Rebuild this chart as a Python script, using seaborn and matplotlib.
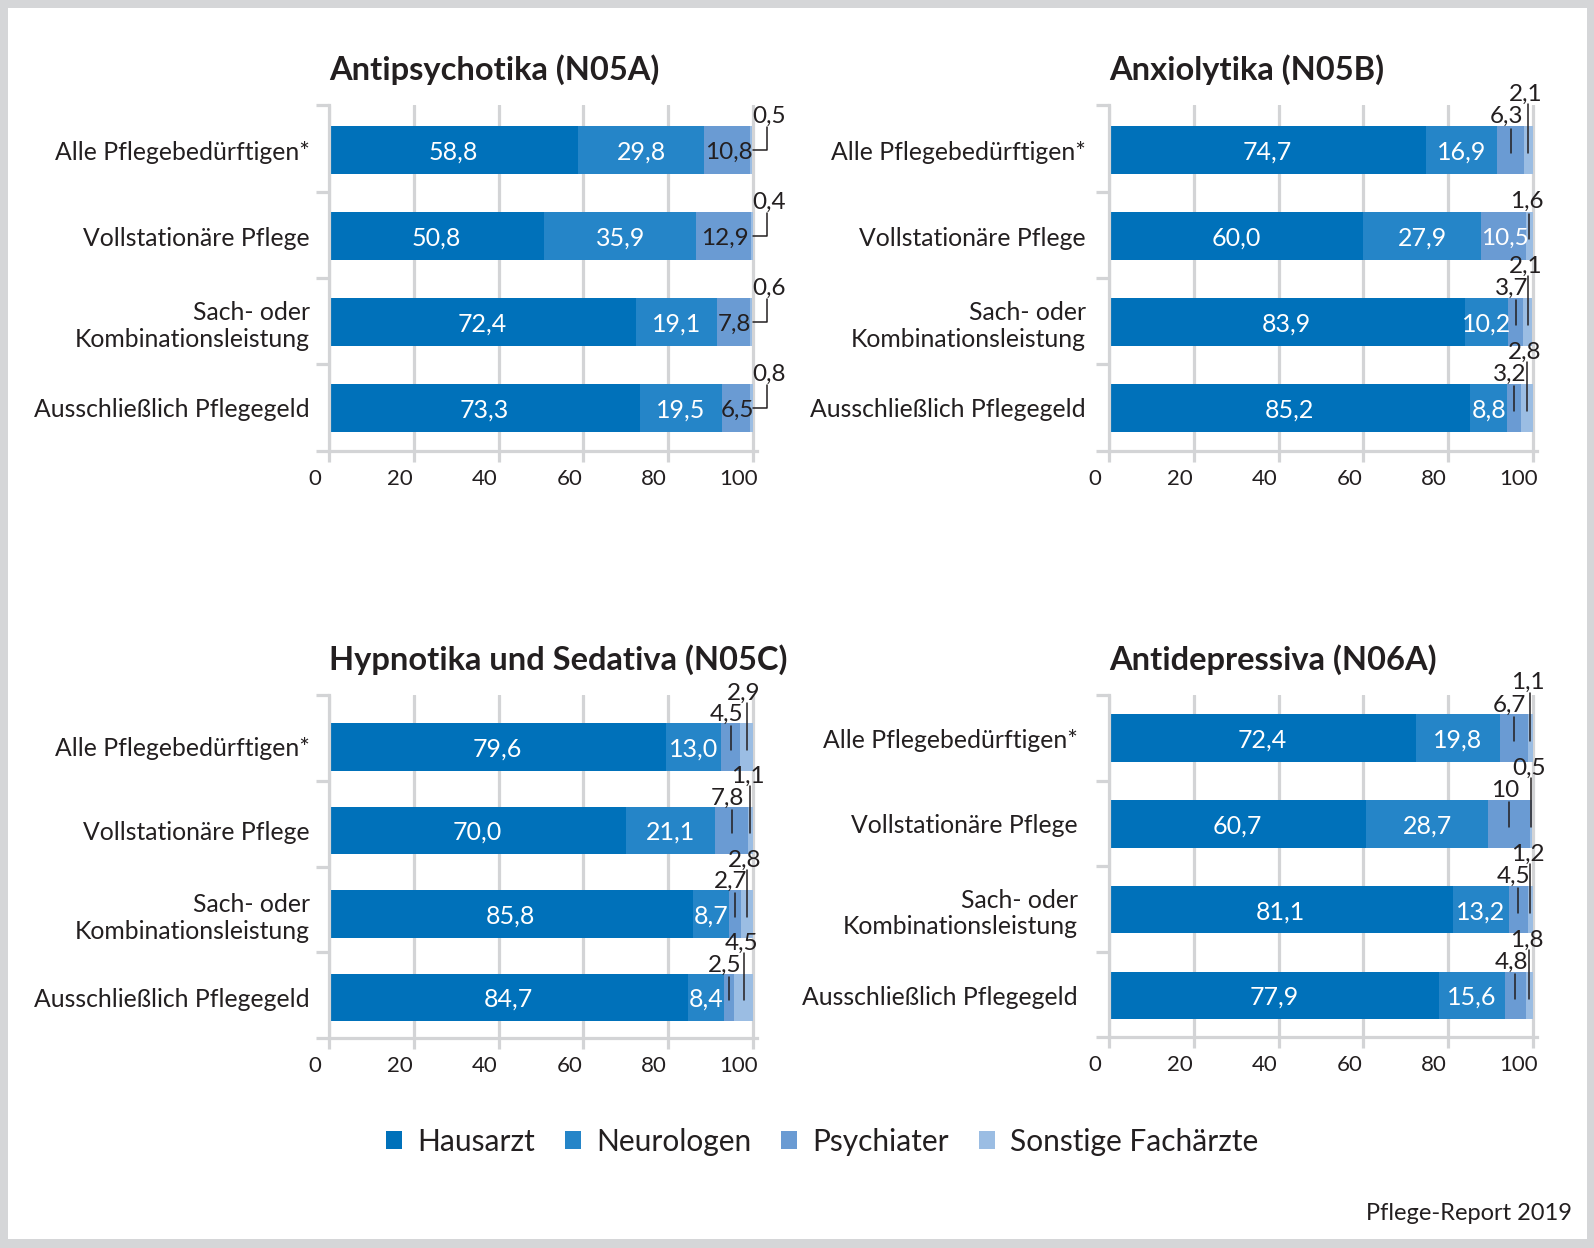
import numpy as np
import matplotlib
matplotlib.use("Agg")
import matplotlib.pyplot as plt
import seaborn as sns
from matplotlib.patches import Rectangle, Patch
from matplotlib.transforms import ScaledTranslation

sns.set_theme(style="white")
plt.rcParams['font.family'] = ['Lato', 'DejaVu Sans']

# ---------------- data ----------------
categories = ["Alle Pflegebedürftigen*", "Vollstationäre Pflege",
              "Sach- oder\nKombinationsleistung", "Ausschließlich Pflegegeld"]
series = ["Hausarzt", "Neurologen", "Psychiater", "Sonstige Fachärzte"]
titles = ["Antipsychotika (N05A)", "Anxiolytika (N05B)",
          "Hypnotika und Sedativa (N05C)", "Antidepressiva (N06A)"]
xticks = [0, 20, 40, 60, 80, 100]

n05a_hausarzt = [58.8, 50.8, 72.4, 73.3]
n05a_neuro = [29.8, 35.9, 19.1, 19.5]
n05a_psych = [10.8, 12.9, 7.8, 6.5]
n05a_sonst = [0.5, 0.4, 0.6, 0.8]

n05b_hausarzt = [74.7, 60.0, 83.9, 85.2]
n05b_neuro = [16.9, 27.9, 10.2, 8.8]
n05b_psych = [6.3, 10.5, 3.7, 3.2]
n05b_sonst = [2.1, 1.6, 2.1, 2.8]

n05c_hausarzt = [79.6, 70.0, 85.8, 84.7]
n05c_neuro = [13.0, 21.1, 8.7, 8.4]
n05c_psych = [4.5, 7.8, 2.7, 2.5]
n05c_sonst = [2.9, 1.1, 2.8, 4.5]

n06a_hausarzt = [72.4, 60.7, 81.1, 77.9]
n06a_neuro = [19.8, 28.7, 13.2, 15.6]
n06a_psych = [6.7, 10, 4.5, 4.8]
n06a_sonst = [1.1, 0.5, 1.2, 1.8]

panels = [
    [n05a_hausarzt, n05a_neuro, n05a_psych, n05a_sonst],
    [n05b_hausarzt, n05b_neuro, n05b_psych, n05b_sonst],
    [n05c_hausarzt, n05c_neuro, n05c_psych, n05c_sonst],
    [n06a_hausarzt, n06a_neuro, n06a_psych, n06a_sonst],
]

# label placement styles
psych_modes = [["in"] * 4, ["up1", "inw", "up1", "up1"], ["up1"] * 4, ["up1"] * 4]
sonst_modes = [["elbow"] * 4, ["up2", "up1", "up2", "up2"], ["up2"] * 4, ["up2"] * 4]

colors = ["#0071BA", "#2585C8", "#6A9BD3", "#9BBDE3"]
gray = "#D3D4D6"
dark = "#231F20"

W, H = 1594, 1248
fig = plt.figure(figsize=(W / 100, H / 100), dpi=100)
fig.patch.set_facecolor("#D5D6D8")
fig.add_artist(Rectangle((8 / W, 9 / H), 1579 / W, 1231 / H, transform=fig.transFigure,
                         facecolor="white", edgecolor="none", zorder=-10))

# layout in pixels: left, top, bottom, label pad, first bar centre, last bar centre
boxes = [(329, 105, 451, 19, 150, 408),
         (1109, 105, 451, 23, 150, 408),
         (329, 695, 1038, 19, 747, 997.5),
         (1109, 695, 1037, 31, 738, 995.5)]
axw = 428
VAL_FS = 18
SMALL_FS = 17.5

def fmt(v):
    return str(v).replace(".", ",")

for k, (vals, (l, t, b, lpad, b0, b3)) in enumerate(zip(panels, boxes)):
    h = b - t
    ax = fig.add_axes([l / W, 1 - b / H, axw / W, h / H])
    unit = (b3 - b0) / 3.0
    ypos = lambda px: (px - b0) / unit
    layers = np.array(vals, dtype=float)
    cum = np.cumsum(layers, axis=0)
    for j in reversed(range(4)):
        sns.barplot(x=cum[j], y=categories, orient="h", color=colors[j], saturation=1,
                    width=47.5 / unit, errorbar=None, linewidth=0, ax=ax)
    ax.set_xlim(0, 101)
    ax.set_ylim(ypos(b), ypos(t))
    ax.set_xlabel("")
    ax.set_ylabel("")
    ax.set_axisbelow(True)
    ax.xaxis.grid(True, color=gray, lw=2.3)
    ax.yaxis.grid(False)
    for s in ["top", "right"]:
        ax.spines[s].set_visible(False)
    for s in ["left", "bottom"]:
        ax.spines[s].set_color(gray)
        ax.spines[s].set_linewidth(2.3)
    ax.set_yticks([ypos(p) for p in np.linspace(t, b, 5)], labels=[""] * 5)
    ax.set_yticks(range(4), labels=categories, minor=True)
    ax.tick_params(axis="y", which="major", left=True, length=9.4, width=2.3, color=gray)
    ax.tick_params(axis="y", which="minor", left=False, length=0, pad=lpad / 1.389,
                   labelsize=17.8, labelcolor=dark)
    ax.set_xticks(xticks, labels=[str(x) for x in xticks])
    ax.tick_params(axis="x", bottom=True, length=8, width=2.3, color=gray,
                   labelsize=16, labelcolor=dark, pad=5)
    for lab in ax.get_xticklabels():
        lab.set_transform(lab.get_transform() + ScaledTranslation(-0.14, 0, fig.dpi_scale_trans))
    ax.set_title(titles[k], loc="left", fontsize=23.5, fontweight="bold", color=dark, pad=18)

    starts = cum - layers
    for i in range(4):
        for j in range(2):
            ax.text(starts[j][i] + layers[j][i] / 2, i, fmt(vals[j][i]), color="white",
                    ha="center", va="center_baseline", fontsize=VAL_FS)
        # psychiater
        xc = starts[2][i] + layers[2][i] / 2
        m = psych_modes[k][i]
        if m in ("in", "inw"):
            ax.text(xc + 0.3, i, fmt(vals[2][i]), color=dark if m == "in" else "white",
                    ha="center", va="center_baseline", fontsize=SMALL_FS)
        else:
            ax.plot([xc, xc], [i + 0.035, i - 0.25], color=dark, lw=1.1, clip_on=False)
            ax.text(xc - 1.0, i - 0.31, fmt(vals[2][i]), color=dark, ha="center",
                    va="baseline", fontsize=SMALL_FS)
        # sonstige
        xc = starts[3][i] + layers[3][i] / 2
        m = sonst_modes[k][i]
        if m == "elbow":
            ax.plot([100, 103.3, 103.3], [i, i, i - 0.27], color=dark, lw=1.1, clip_on=False)
            ax.text(103.9, i - 0.31, fmt(vals[3][i]), color=dark, ha="center",
                    va="baseline", fontsize=SMALL_FS)
        elif m == "up1":
            ax.plot([xc, xc], [i + 0.035, i - 0.25], color=dark, lw=1.1, clip_on=False)
            ax.text(xc - 0.6, i - 0.33, fmt(vals[3][i]), color=dark, ha="center",
                    va="baseline", fontsize=SMALL_FS)
        else:
            ax.plot([xc, xc], [i + 0.035, i - 0.53], color=dark, lw=1.1, clip_on=False)
            ax.text(xc - 0.6, i - 0.57, fmt(vals[3][i]), color=dark, ha="center",
                    va="baseline", fontsize=SMALL_FS)

handles = [Patch(facecolor=c, edgecolor="none") for c in colors]
fig.legend(handles, series, loc="center", bbox_to_anchor=(822 / W, 1 - 1142 / H), ncol=4,
           frameon=False, fontsize=21.5, handlelength=0.55, handleheight=0.55,
           handletextpad=0.5, columnspacing=1.0, labelcolor=dark)

fig.text(1572 / W, 1 - 1213 / H, "Pflege-Report 2019", ha="right", va="center",
         fontsize=17, color=dark)

fig.savefig("out.png", dpi=100, facecolor=fig.get_facecolor())
